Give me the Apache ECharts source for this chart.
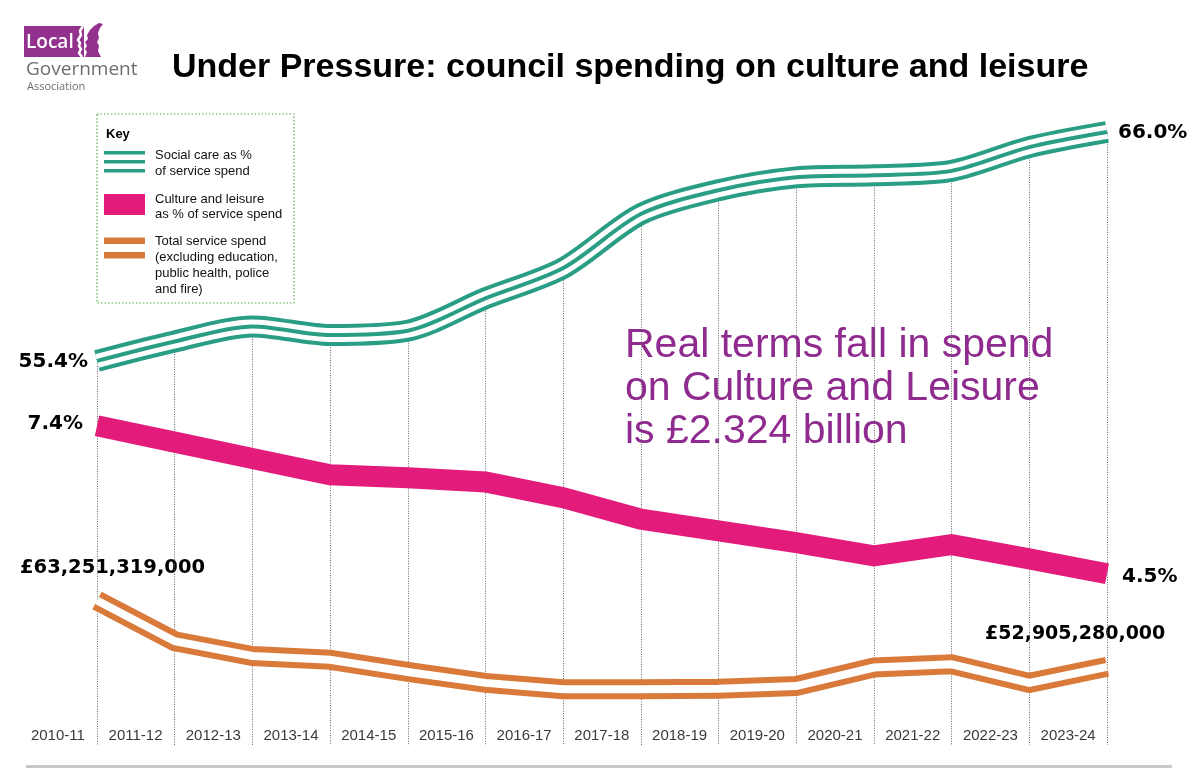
<!DOCTYPE html>
<html>
<head>
<meta charset="utf-8">
<script src="https://cdn.jsdelivr.net/npm/echarts@6/dist/echarts.min.js"></script>
<style>
html,body{margin:0;padding:0;background:#fff;}
#chart{width:1200px;height:780px;}
</style>
</head>
<body>
<div id="chart"></div>
<script>
// ---- data ----
const years = ['2010-11','2011-12','2012-13','2013-14','2014-15','2015-16','2016-17','2017-18','2018-19','2019-20','2020-21','2021-22','2022-23','2023-24'];
const socialCarePct = [55.4, 56.3, 57.0, 56.6, 56.8, 58.3, 59.7, 62.2, 63.3, 63.9, 64.0, 64.2, 65.3, 66.0];
const culturePct = [7.40, 7.08, 6.76, 6.44, 6.38, 6.30, 5.99, 5.57, 5.34, 5.11, 4.85, 5.07, 4.79, 4.50];
const totalSpendBn = [63.251, 56.9, 54.6, 54.0, 52.1, 50.4, 49.4, 49.4, 49.5, 49.9, 52.8, 53.3, 50.4, 52.905];
const endLabels = {
  socialStart: '55.4%', socialEnd: '66.0%',
  cultureStart: '7.4%', cultureEnd: '4.5%',
  spendStart: '£63,251,319,000', spendEnd: '£52,905,280,000'
};

// ---- styling ----
const TEAL = '#2a9e84', PINK = '#e31c7b', ORANGE = '#d97a3b', PURPLE = '#8f2a8f';
const TEAL_RANGE = [37.62, 67.48];
const PINK_RANGE = [1.141, 13.788];
const SPEND_RANGE = [40.71, 141.33];

function band(data, yIdx, color, width, z, smooth) {
  return {
    type: 'line', data: data, xAxisIndex: 0, yAxisIndex: yIdx,
    symbol: 'none', smooth: smooth, silent: true, z: z,
    lineStyle: { color: color, width: width, join: 'miter', miterLimit: 20, cap: 'butt' },
    emphasis: { disabled: true }
  };
}

const chart = echarts.init(document.getElementById('chart'), null, { renderer: 'canvas' });

const boldLbl = { fontFamily: 'DejaVu Sans', fontWeight: 'bold', fill: '#000' };
function txt(x, y, text, style) {
  return { type: 'text', x: x, y: y, silent: true, style: Object.assign({ text: text, verticalAlign: 'middle' }, style) };
}

const option = {
  animation: false,
  backgroundColor: '#fff',
  grid: [
    { left: 97, right: 93, top: 100, bottom: 35 },
    { left: 19, right: 93, top: 100, bottom: 58 }
  ],
  xAxis: [
    { type: 'category', gridIndex: 0, data: years, boundaryGap: false, show: false },
    { type: 'category', gridIndex: 1, data: years, boundaryGap: true,
      axisLine: { show: false }, axisTick: { show: false }, splitLine: { show: false },
      axisLabel: { color: '#3a3a3a', fontSize: 15, fontFamily: 'Liberation Sans, Arial, sans-serif', margin: 6, interval: 0 } }
  ],
  yAxis: [
    { type: 'value', gridIndex: 0, min: TEAL_RANGE[0], max: TEAL_RANGE[1], show: false },
    { type: 'value', gridIndex: 0, min: PINK_RANGE[0], max: PINK_RANGE[1], show: false },
    { type: 'value', gridIndex: 0, min: SPEND_RANGE[0], max: SPEND_RANGE[1], show: false },
    { type: 'value', gridIndex: 1, show: false }
  ],
  series: [
    {
      type: 'line', data: socialCarePct, xAxisIndex: 0, yAxisIndex: 0, symbol: 'none', silent: true, z: 1,
      lineStyle: { opacity: 0, width: 0 },
      markLine: {
        silent: true, z: 1, symbol: ['none', 'none'], animation: false,
        label: { show: false },
        lineStyle: { type: [1, 1.5], color: '#666', width: 1 },
        emphasis: { disabled: true },
        data: years.map((y, i) => [{ coord: [y, socialCarePct[i]] }, { coord: [y, TEAL_RANGE[0]] }])
      }
    },
    band(socialCarePct, 0, TEAL, 22, 2, 0.3),
    band(socialCarePct, 0, '#ffffff', 14, 3, 0.3),
    band(socialCarePct, 0, TEAL, 4, 4, 0.3),
    band(culturePct, 1, PINK, 21, 5, false),
    band(totalSpendBn, 2, ORANGE, 20, 5, false),
    band(totalSpendBn, 2, '#ffffff', 8, 6, false),
    { type: 'line', xAxisIndex: 1, yAxisIndex: 3, data: [], silent: true }
  ],
  graphic: [
    // logo
    { type: 'rect', shape: { x: 24, y: 26, width: 60, height: 31 }, style: { fill: '#93328e' }, silent: true },
    txt(26, 43, 'Local', { fill: '#fff', fontSize: 19, fontFamily: 'Open Sans, sans-serif', fontWeight: 600, letterSpacing: -0.3 }),
    { type: 'polyline', shape: { points: [[83,26],[80,31],[81,35],[78,40],[80,43],[79,46],[81,49],[79,53],[82,57]] },
      style: { stroke: '#fff', lineWidth: 2.5, fill: null }, silent: true },
    { type: 'polygon', shape: { points: [[85,57],[87,52],[85,49],[87,46],[85,42],[88,39],[87,35],[90,30],[94,26],[99,23],[103,24],[100,28],[98,33],[99,38],[97,42],[99,46],[98,51],[101,57]] },
      style: { fill: '#93328e' }, silent: true },
    txt(26, 70, 'Government', { fill: '#6d6e71', fontSize: 19, fontFamily: 'Open Sans, sans-serif', letterSpacing: -0.6 }),
    txt(27, 87, 'Association', { fill: '#6d6e71', fontSize: 11, fontFamily: 'Open Sans, sans-serif' }),
    // title
    txt(172, 68, 'Under Pressure: council spending on culture and leisure',
      { fill: '#000', fontSize: 34, fontWeight: 'bold', fontFamily: 'Liberation Sans, Arial, sans-serif' }),
    // key box
    { type: 'rect', shape: { x: 97, y: 114, width: 197, height: 189 }, silent: true,
      style: { fill: 'none', stroke: '#55ad4a', lineWidth: 1.2, lineDash: [1.5, 2] } },
    txt(106, 134, 'Key', { fill: '#000', fontSize: 13, fontWeight: 'bold', fontFamily: 'Liberation Sans, Arial, sans-serif' }),
    { type: 'rect', shape: { x: 104, y: 151, width: 41, height: 3.6 }, style: { fill: TEAL }, silent: true },
    { type: 'rect', shape: { x: 104, y: 160, width: 41, height: 3.6 }, style: { fill: TEAL }, silent: true },
    { type: 'rect', shape: { x: 104, y: 169, width: 41, height: 3.6 }, style: { fill: TEAL }, silent: true },
    txt(155, 155, 'Social care as %', { fill: '#111', fontSize: 13, fontFamily: 'Liberation Sans, Arial, sans-serif' }),
    txt(155, 171, 'of service spend', { fill: '#111', fontSize: 13, fontFamily: 'Liberation Sans, Arial, sans-serif' }),
    { type: 'rect', shape: { x: 104, y: 194, width: 41, height: 21 }, style: { fill: PINK }, silent: true },
    txt(155, 199, 'Culture and leisure', { fill: '#111', fontSize: 13, fontFamily: 'Liberation Sans, Arial, sans-serif' }),
    txt(155, 214.5, 'as % of service spend', { fill: '#111', fontSize: 13, fontFamily: 'Liberation Sans, Arial, sans-serif' }),
    { type: 'rect', shape: { x: 104, y: 237.5, width: 41, height: 6.5 }, style: { fill: ORANGE }, silent: true },
    { type: 'rect', shape: { x: 104, y: 252, width: 41, height: 6.5 }, style: { fill: ORANGE }, silent: true },
    txt(155, 241.5, 'Total service spend', { fill: '#111', fontSize: 13, fontFamily: 'Liberation Sans, Arial, sans-serif' }),
    txt(155, 257, '(excluding education,', { fill: '#111', fontSize: 13, fontFamily: 'Liberation Sans, Arial, sans-serif' }),
    txt(155, 273, 'public health, police', { fill: '#111', fontSize: 13, fontFamily: 'Liberation Sans, Arial, sans-serif' }),
    txt(155, 289, 'and fire)', { fill: '#111', fontSize: 13, fontFamily: 'Liberation Sans, Arial, sans-serif' }),
    // value labels
    txt(88, 362, endLabels.socialStart, Object.assign({ fontSize: 20, align: 'right' }, boldLbl)),
    txt(83, 424, endLabels.cultureStart, Object.assign({ fontSize: 20, align: 'right' }, boldLbl)),
    txt(20, 568, endLabels.spendStart, Object.assign({ fontSize: 19.5 }, boldLbl)),
    txt(1118, 133, endLabels.socialEnd, Object.assign({ fontSize: 20 }, boldLbl)),
    txt(1122, 577, endLabels.cultureEnd, Object.assign({ fontSize: 20 }, boldLbl)),
    txt(985, 634, endLabels.spendEnd, Object.assign({ fontSize: 19 }, boldLbl)),
    // annotation
    txt(625, 346, 'Real terms fall in spend', { fill: PURPLE, fontSize: 41, fontFamily: 'Liberation Sans, Arial, sans-serif' }),
    txt(625, 389, 'on Culture and Leisure', { fill: PURPLE, fontSize: 41, fontFamily: 'Liberation Sans, Arial, sans-serif' }),
    txt(625, 432, 'is £2.324 billion', { fill: PURPLE, fontSize: 41, fontFamily: 'Liberation Sans, Arial, sans-serif' }),
    // footer rule
    { type: 'rect', shape: { x: 26, y: 765, width: 1146, height: 3 }, style: { fill: '#c8c8c8' }, silent: true }
  ]
};
chart.setOption(option);
</script>
</body>
</html>
